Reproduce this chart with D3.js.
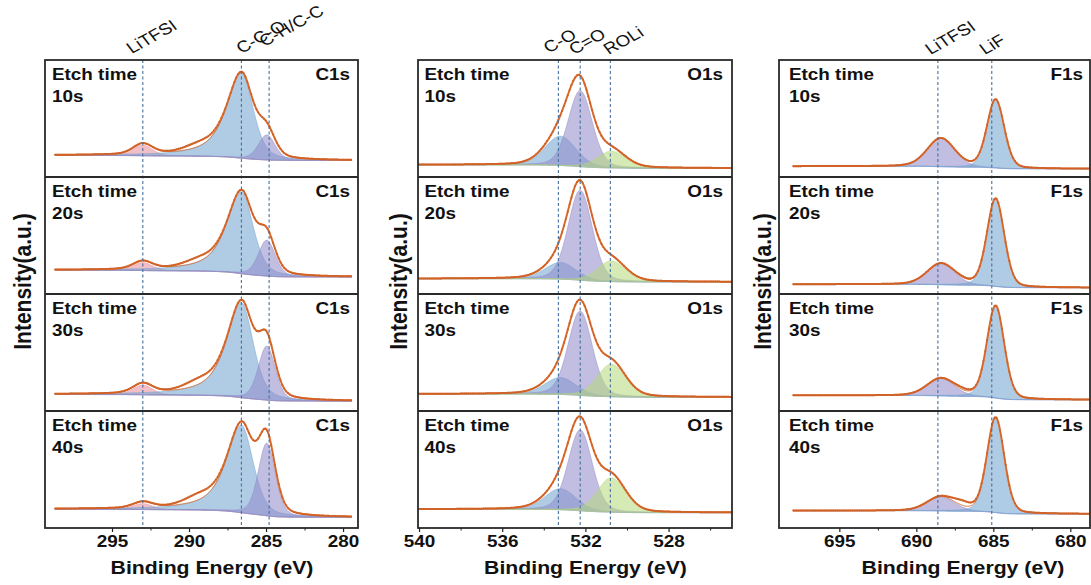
<!DOCTYPE html>
<html>
<head>
<meta charset="utf-8">
<script src="https://cdn.jsdelivr.net/npm/d3@7"></script>
<style>
  body { margin: 0; background: #fff; }
  svg { display: block; }
</style>
</head>
<body>
<svg id="chart" width="1091" height="585"></svg>
<script>
// rows = etch time
const etchTimes = ["10s", "20s", "30s", "40s"]

// ---- C1s ----
const c1sNames = ["LiTFSI", "C-C-O", "C-H/C-C"]
const c1sMarkers = [293.0, 286.6, 284.8]
const c1sCenters = [293.0, 286.6, 284.95]
const c1sWidths = [[0.75, 0.75], [1.15, 0.9], [0.65, 0.65]]      // HWHM [high BE side, low BE side], eV
const c1sLorentz = [[0.3, 0.3], [0.75, 0.4], [0.3, 0.3]]
const c1sHeights = [[9.0, 72.7, 21.4], [6.8, 70.1, 30.8], [8.3, 81.2, 46.2], [5.1, 74.9, 62.1]]
const c1sBackground = [[18.4, 14.1], [20.3, 14.5], [14.1, 8.4], [16.0, 9.1]]   // [high BE end, low BE end]
const c1sUnfitted = [4.3, 4.3, 5.6, 6.0]   // shoulder ~289.4 eV only in raw data
const c1sTicks = [295, 290, 285, 280]
const c1sMinor = [292.5, 287.5, 282.5]

// ---- O1s ----
const o1sNames = ["C-O", "C=O", "ROLi"]
const o1sMarkers = [533.3, 532.25, 530.8]
const o1sCenters = [533.2, 532.25, 530.75]
const o1sWidths = [[0.88, 0.88], [0.68, 0.68], [0.8, 0.8]]
const o1sLorentz = [[0.2, 0.2], [0.2, 0.2], [0.2, 0.2]]
const o1sHeights = [[25.0, 65.0, 14.3], [14.3, 77.0, 17.7], [14.5, 72.1, 28.0], [18.0, 69.2, 29.4]]
const o1sBackground = [[10.4, 7.5], [13.1, 10.3], [14.5, 11.8], [16.0, 13.1]]
const o1sUnfitted = [0, 0, 0, 0]
const o1sTicks = [540, 536, 532, 528]
const o1sMinor = [538, 534, 530, 526]

// ---- F1s ----
const f1sNames = ["LiTFSI", "LiF"]
const f1sMarkers = [688.6, 685.1]
const f1sCenters = [688.4, 684.85]
const f1sWidths = [[1.05, 1.05], [0.66, 0.66]]
const f1sLorentz = [[0.2, 0.2], [0.2, 0.2]]
const f1sHeights = [[24.2, 58.4], [18.0, 75.0], [14.8, 78.9], [12.0, 81.2]]
const f1sBackground = [[9.2, 7.0], [8.3, 5.4], [13.3, 9.6], [14.8, 12.0]]
const f1sUnfitted = [0, 0.9, 1.7, 4.3]   // raw data above fit ~687 eV
const f1sTicks = [695, 690, 685, 680]
const f1sMinor = [692.5, 687.5, 682.5]

// layout
const rowTop = 60, rowH = 117, bottom = rowTop + 4 * rowH
const stretch = 1.18
const font = "'Liberation Sans', Arial, Helvetica, sans-serif"
const fills = { pink: "#e88a9a", blue: "#6fa3d0", purple: "#9088c8", green: "#b5d97a" }
const orange = "#e0783a", orangeDark = "#cf6128", dash = "#45709c", ink = "#111"

const spectra = [
    { name: "C1s", domain: [299.35, 279.03], range: [45, 358], data: [298.7, 279.4], step: 0.04,
      names: c1sNames, markers: c1sMarkers, centers: c1sCenters, widths: c1sWidths, lorentz: c1sLorentz,
      heights: c1sHeights, background: c1sBackground, unfitted: c1sUnfitted, extra: [289.4, 1.1],
      colors: ["pink", "blue", "purple"], ticks: c1sTicks, minor: c1sMinor,
      labelDx: [-11, 0, -4.5], labelY: [54, 54, 47], padL: 7, padR: 8, titleX: 212, yTitleX: 31 },
    { name: "O1s", domain: [540.05, 524.95], range: [418, 732], data: [540.05, 524.95], step: 0.03,
      names: o1sNames, markers: o1sMarkers, centers: o1sCenters, widths: o1sWidths, lorentz: o1sLorentz,
      heights: o1sHeights, background: o1sBackground, unfitted: o1sUnfitted, extra: [531, 1],
      colors: ["blue", "purple", "green"], ticks: o1sTicks, minor: o1sMinor,
      labelDx: [-9.5, -6, -1.5], labelY: [53.5, 55, 55], padL: 6.5, padR: 9, titleX: 585.5, yTitleX: 407 },
    { name: "F1s", domain: [698.92, 678.72], range: [779, 1090], data: [698.0, 678.8], step: 0.04,
      names: f1sNames, markers: f1sMarkers, centers: f1sCenters, widths: f1sWidths, lorentz: f1sLorentz,
      heights: f1sHeights, background: f1sBackground, unfitted: f1sUnfitted, extra: [687.0, 0.7],
      colors: ["purple", "blue"], ticks: f1sTicks, minor: f1sMinor,
      labelDx: [-7.5, -7], labelY: [55, 55], padL: 10, padR: 7, titleX: 963, yTitleX: 771 }
]

// asymmetric pseudo-Voigt peak
function peak(e, c, h, w, eta) {
    const side = e >= c ? 0 : 1
    const r = (e - c) / w[side]
    const r2 = r * r
    return h * (eta[side] / (1 + r2) + (1 - eta[side]) * Math.exp(-Math.LN2 * r2))
}

// Shirley-type background, es descending (high BE first)
function shirley(es, sums, bHigh, bLow) {
    const n = es.length
    const cum = new Array(n).fill(0)
    for (let i = n - 2; i >= 0; i--)
        cum[i] = cum[i + 1] + (sums[i] + sums[i + 1]) / 2 * Math.abs(es[i] - es[i + 1])
    const tot = cum[0] || 1
    return cum.map(c => bLow + (bHigh - bLow) * c / tot)
}

function stext(parent, x, y, str, size, weight, anchor, rot) {
    return parent.append("text")
        .attr("transform", `translate(${x},${y}) scale(${stretch},1)` + (rot ? ` rotate(${rot})` : ""))
        .attr("text-anchor", anchor || "start")
        .attr("fill", ink)
        .style("font-family", font)
        .style("font-size", size + "px")
        .style("font-weight", weight || "bold")
        .text(str)
}

const svg = d3.select("#chart")

spectra.forEach((sp, pi) => {
    const g = svg.append("g")
    const x = d3.scaleLinear().domain(sp.domain).range(sp.range)
    const left = sp.range[0], right = sp.range[1]
    const es = d3.range(sp.data[0], sp.data[1] - 1e-9, -sp.step)

    g.append("clipPath").attr("id", "clip" + pi)
        .append("rect").attr("x", left).attr("y", rowTop).attr("width", right - left).attr("height", bottom - rowTop)

    const plot = g.append("g").attr("clip-path", `url(#clip${pi})`)

    etchTimes.forEach((t, ri) => {
        const y0 = rowTop + ri * rowH
        const y = d3.scaleLinear().domain([0, 100]).range([y0 + rowH, y0])

        const comps = sp.centers.map((c, k) => es.map(e => peak(e, c, sp.heights[ri][k], sp.widths[k], sp.lorentz[k])))
        const sums = es.map((e, i) => d3.sum(comps, cc => cc[i]))
        const bg = shirley(es, sums, sp.background[ri][0], sp.background[ri][1])
        const fit = es.map((e, i) => bg[i] + sums[i])
        const raw = es.map((e, i) => fit[i] + peak(e, sp.extra[0], sp.unfitted[ri], [sp.extra[1], sp.extra[1]], [0.3, 0.3]))

        const rg = plot.append("g")

        comps.forEach((cc, k) => {
            const area = d3.area()
                .x((d, i) => x(es[i]))
                .y0((d, i) => y(bg[i]))
                .y1((d, i) => y(bg[i] + d))
            rg.append("path").datum(cc)
                .attr("d", area)
                .attr("fill", fills[sp.colors[k]])
                .attr("fill-opacity", 0.55)
                .attr("stroke", fills[sp.colors[k]])
                .attr("stroke-opacity", 0.7)
                .attr("stroke-width", 0.7)
        })

        const line = d3.line().x((d, i) => x(es[i])).y(d => y(d))

        rg.append("path").datum(raw)
            .attr("d", line)
            .attr("fill", "none")
            .attr("stroke", orange)
            .attr("stroke-width", 2)

        rg.append("g").selectAll("circle")
            .data(raw.map((v, i) => [es[i], v]).filter((d, i) => i % 3 === 0))
            .join("circle")
            .attr("cx", d => x(d[0]))
            .attr("cy", d => y(d[1]))
            .attr("r", 1)
            .attr("fill", orangeDark)

        rg.append("path").datum(fit)
            .attr("d", line)
            .attr("fill", "none")
            .attr("stroke", orangeDark)
            .attr("stroke-width", 0.9)

        // labels
        stext(g, left + sp.padL, y0 + 20, "Etch time", 16)
        stext(g, left + sp.padL, y0 + 41.5, t, 16)
        stext(g, right - sp.padR, y0 + 20, sp.name, 16, "bold", "end")
    })

    // dashed reference lines
    g.append("g").selectAll("line")
        .data(sp.markers)
        .join("line")
        .attr("x1", d => x(d)).attr("x2", d => x(d))
        .attr("y1", rowTop).attr("y2", bottom)
        .attr("stroke", dash)
        .attr("stroke-width", 1.1)
        .attr("stroke-dasharray", "3,2.5")

    // labels above
    sp.names.forEach((n, k) => {
        stext(g, x(sp.markers[k]) + sp.labelDx[k], sp.labelY[k], n, 16, "normal", "start", -33)
    })

    // frame and row dividers
    g.append("rect")
        .attr("x", left).attr("y", rowTop)
        .attr("width", right - left).attr("height", bottom - rowTop)
        .attr("fill", "none").attr("stroke", "#2a2a2a").attr("stroke-width", 1.8)
    g.append("g").selectAll("line")
        .data(d3.range(1, etchTimes.length))
        .join("line")
        .attr("x1", left).attr("x2", right)
        .attr("y1", d => rowTop + d * rowH).attr("y2", d => rowTop + d * rowH)
        .attr("stroke", "#2a2a2a").attr("stroke-width", 1.8)

    // x axis
    const axis = d3.axisBottom(x).tickValues(sp.ticks).tickSize(4).tickPadding(4).tickFormat(d3.format("d"))
    const ag = g.append("g").attr("transform", `translate(0,${bottom})`).call(axis)
    ag.select(".domain").remove()
    ag.selectAll("line").attr("stroke", "#222").attr("stroke-width", 1.2)
    ag.selectAll("text")
        .attr("transform", `scale(${stretch},1)`)
        .attr("fill", ink)
        .style("font-family", font)
        .style("font-size", "16px")
        .style("font-weight", "bold")

    const minorAxis = d3.axisBottom(x).tickValues(sp.minor).tickSize(2.5).tickFormat("")
    const mg = g.append("g").attr("transform", `translate(0,${bottom})`).call(minorAxis)
    mg.select(".domain").remove()
    mg.selectAll("line").attr("stroke", "#222").attr("stroke-width", 1)

    stext(g, sp.titleX, 573.5, "Binding Energy (eV)", 18, "bold", "middle")
    stext(g, sp.yTitleX, 281.5, "Intensity(a.u.)", 21, "bold", "middle", -90)
})
</script>
</body>
</html>
